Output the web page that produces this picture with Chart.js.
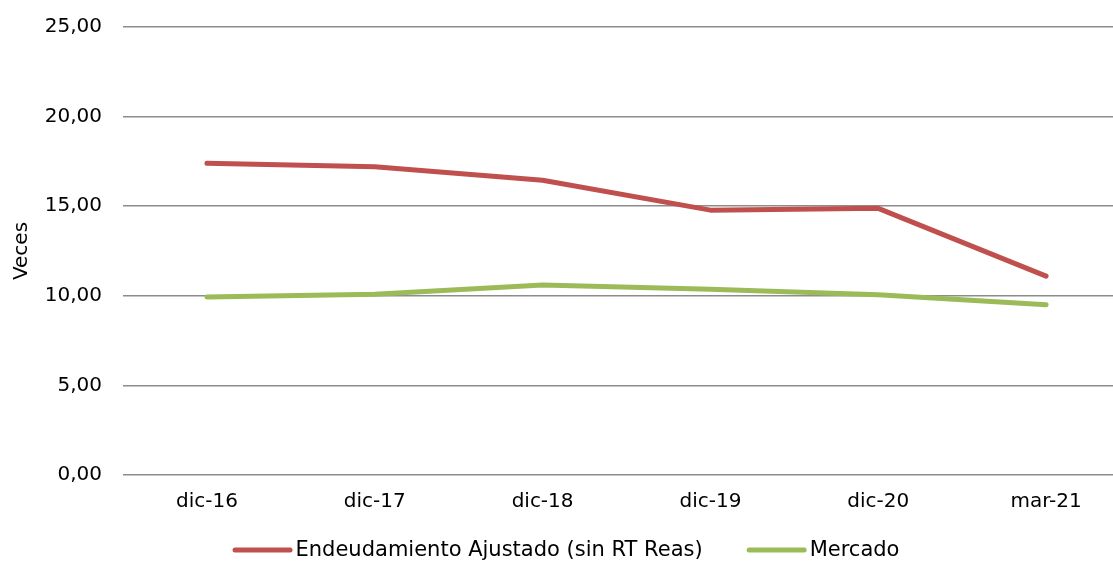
<!DOCTYPE html>
<html>
<head>
<meta charset="utf-8">
<style>
  html, body { margin: 0; padding: 0; background: #ffffff; overflow: hidden; }
  #wrap { width: 1130px; height: 563px; }
</style>
<script src="https://cdn.jsdelivr.net/npm/chart.js@4/dist/chart.umd.min.js"></script>
</head>
<body>
<div id="wrap"><canvas id="c" width="1130" height="563"></canvas></div>
<script>
// Periods on the horizontal axis
const periods = ['dic-16', 'dic-17', 'dic-18', 'dic-19', 'dic-20', 'mar-21'];
// Adjusted leverage of the company (times)
const endeudamiento = [17.40, 17.20, 16.45, 14.78, 14.88, 11.10];
// Market leverage (times)
const mercado = [9.93, 10.08, 10.60, 10.37, 10.06, 9.50];
// Vertical axis ticks
const yTicks = [0, 5, 10, 15, 20, 25];

const FONT = 'Verdana, "DejaVu Sans", sans-serif';
const FONT_SIZE = 20;
const LEGEND_FONT_SIZE = 21;

// Bottom legend: a short thick line followed closely by the series name
const lineLegend = {
  id: 'lineLegend',
  afterDraw(chart) {
    const ctx = chart.ctx;
    const lineW = 60, gap = 3, itemGap = 44, y = 550;
    ctx.save();
    ctx.font = LEGEND_FONT_SIZE + 'px ' + FONT;
    ctx.textBaseline = 'middle';
    ctx.textAlign = 'left';
    const items = chart.data.datasets.map(ds => ({
      label: ds.label, color: ds.borderColor, w: ctx.measureText(ds.label).width
    }));
    const total = items.reduce((s, it) => s + lineW + gap + it.w, 0) + itemGap * (items.length - 1);
    let x = 566 - total / 2;
    items.forEach(it => {
      ctx.strokeStyle = it.color;
      ctx.lineWidth = 5;
      ctx.lineCap = 'round';
      ctx.beginPath();
      ctx.moveTo(x + 2.5, y);
      ctx.lineTo(x + lineW - 2.5, y);
      ctx.stroke();
      ctx.fillStyle = '#000000';
      ctx.fillText(it.label, x + lineW + gap, y + 1);
      x += lineW + gap + it.w + itemGap;
    });
    ctx.restore();
  }
};

new Chart(document.getElementById('c'), {
  type: 'line',
  data: {
    labels: periods,
    datasets: [
      {
        label: 'Endeudamiento Ajustado (sin RT Reas)',
        data: endeudamiento,
        borderColor: '#C0504D',
        backgroundColor: '#C0504D',
        borderWidth: 5,
        borderCapStyle: 'round',
        borderJoinStyle: 'round',
        pointRadius: 0,
        tension: 0
      },
      {
        label: 'Mercado',
        data: mercado,
        borderColor: '#9BBB59',
        backgroundColor: '#9BBB59',
        borderWidth: 5,
        borderCapStyle: 'round',
        borderJoinStyle: 'round',
        pointRadius: 0,
        tension: 0
      }
    ]
  },
  plugins: [lineLegend],
  options: {
    responsive: false,
    animation: false,
    devicePixelRatio: 1,
    layout: { padding: { top: 27, left: 0, right: 0, bottom: 43 } },
    plugins: {
      tooltip: { enabled: false },
      legend: { display: false }
    },
    scales: {
      x: {
        offset: true,
        grid: { display: false, drawTicks: false },
        border: { display: false },
        ticks: {
          color: '#000000',
          font: { family: FONT, size: FONT_SIZE },
          padding: 15,
          maxRotation: 0
        },
        afterFit(scale) { scale.height = 45; scale.paddingLeft = 0; scale.paddingRight = 0; }
      },
      y: {
        min: 0,
        max: 25,
        afterBuildTicks(scale) { scale.ticks = yTicks.map(v => ({ value: v })); },
        grid: { color: '#8c8c8c', lineWidth: 1.5, drawTicks: false },
        border: { display: false },
        ticks: {
          color: '#000000',
          font: { family: FONT, size: FONT_SIZE },
          padding: 21,
          callback: v => v.toFixed(2).replace('.', ',')
        },
        title: {
          display: true,
          text: 'Veces',
          color: '#000000',
          font: { family: FONT, size: FONT_SIZE },
          padding: { top: 10, bottom: 0 }
        },
        afterFit(scale) { scale.width = 123; scale.paddingTop = 0; scale.paddingBottom = 0; }
      }
    }
  }
});
</script>
</body>
</html>
